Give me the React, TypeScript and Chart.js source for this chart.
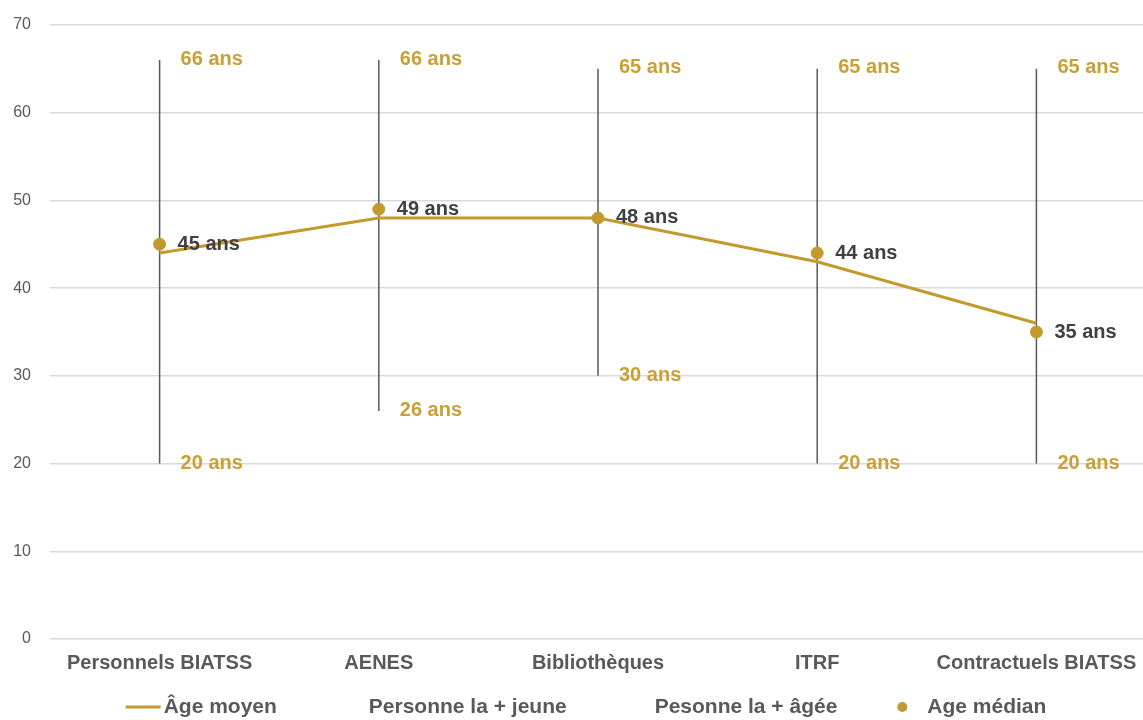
import React, { useEffect, useRef } from 'react';
import { Chart, registerables } from 'chart.js';

Chart.register(...registerables);

const categories = ['Personnels BIATSS', 'AENES', 'Bibliothèques', 'ITRF', 'Contractuels BIATSS'];
const ageMoyen = [44, 48, 48, 43, 36];
const plusJeune = [20, 26, 30, 20, 20];
const plusAgee = [66, 66, 65, 65, 65];
const ageMedian = [45, 49, 48, 44, 35];
const seriesNames = ['Âge moyen', 'Personne la + jeune', 'Pesonne la + âgée', 'Age médian'];
const yMin = 0;
const yMax = 70;
const yStep = 10;

const GOLD = '#C39A2E';
const GOLD_TEXT = '#C9A035';
const DARK = '#404040';
const GREY = '#595959';
const FONT = '"Liberation Sans", Arial, sans-serif';
const CANVAS_W = 1153;

const rangePlugin = {
  id: 'rangeLines',
  beforeDatasetsDraw(chart: any) {
    const { ctx } = chart;
    const xs = chart.scales.x;
    const ys = chart.scales.y;
    ctx.save();
    ctx.strokeStyle = '#595959';
    ctx.lineWidth = 1.5;
    for (let i = 0; i < categories.length; i++) {
      const x = xs.getPixelForValue(i);
      ctx.beginPath();
      ctx.moveTo(x, ys.getPixelForValue(plusJeune[i]));
      ctx.lineTo(x, ys.getPixelForValue(plusAgee[i]));
      ctx.stroke();
    }
    ctx.restore();
  },
};

const labelPlugin = {
  id: 'valueLabels',
  afterDatasetsDraw(chart: any) {
    const { ctx } = chart;
    const xs = chart.scales.x;
    const ys = chart.scales.y;
    ctx.save();
    ctx.font = `bold 20px ${FONT}`;
    ctx.textAlign = 'left';
    ctx.textBaseline = 'middle';
    for (let i = 0; i < categories.length; i++) {
      const x = xs.getPixelForValue(i);
      ctx.fillStyle = GOLD_TEXT;
      ctx.fillText(`${plusAgee[i]} ans`, x + 21, ys.getPixelForValue(plusAgee[i]) - 1);
      ctx.fillText(`${plusJeune[i]} ans`, x + 21, ys.getPixelForValue(plusJeune[i]));
      ctx.fillStyle = DARK;
      ctx.fillText(`${ageMedian[i]} ans`, x + 18, ys.getPixelForValue(ageMedian[i]));
    }
    ctx.restore();
  },
};

const legendPlugin = {
  id: 'customLegend',
  afterDraw(chart: any) {
    const { ctx } = chart;
    ctx.save();
    ctx.font = `bold 21px ${FONT}`;
    ctx.textBaseline = 'middle';
    ctx.textAlign = 'left';
    const kinds = ['line', 'none', 'none', 'dot'];
    const gaps = [92, 88, 60];
    const markerW = (k: string) => (k === 'line' ? 38 : k === 'dot' ? 30 : 0);
    let total = 0;
    seriesNames.forEach((t, i) => {
      total += markerW(kinds[i]) + ctx.measureText(t).width;
      if (i < gaps.length) total += gaps[i];
    });
    let x = 586 - total / 2;
    const y = 707;
    seriesNames.forEach((t, i) => {
      const k = kinds[i];
      if (k === 'line') {
        ctx.strokeStyle = GOLD;
        ctx.lineWidth = 3;
        ctx.beginPath();
        ctx.moveTo(x, y);
        ctx.lineTo(x + 35, y);
        ctx.stroke();
      } else if (k === 'dot') {
        ctx.fillStyle = GOLD;
        ctx.beginPath();
        ctx.arc(x + 5, y, 5, 0, Math.PI * 2);
        ctx.fill();
      }
      x += markerW(k);
      ctx.fillStyle = GREY;
      ctx.fillText(t, x, y);
      x += ctx.measureText(t).width + (i < gaps.length ? gaps[i] : 0);
    });
    ctx.restore();
  },
};

export default function App() {
  const ref = useRef<HTMLCanvasElement | null>(null);
  useEffect(() => {
    if (!ref.current) return;
    const chart = new Chart(ref.current, {
      type: 'line',
      data: {
        labels: categories,
        datasets: [
          {
            label: seriesNames[0],
            data: ageMoyen,
            borderColor: GOLD,
            backgroundColor: GOLD,
            borderWidth: 3,
            pointRadius: 0,
            tension: 0,
            order: 1,
          },
          {
            label: seriesNames[1],
            data: plusJeune,
            showLine: false,
            pointRadius: 0,
            borderColor: 'transparent',
            order: 2,
          },
          {
            label: seriesNames[2],
            data: plusAgee,
            showLine: false,
            pointRadius: 0,
            borderColor: 'transparent',
            order: 2,
          },
          {
            label: seriesNames[3],
            data: ageMedian,
            showLine: false,
            pointRadius: 6,
            pointBackgroundColor: GOLD,
            pointBorderColor: GOLD,
            borderColor: GOLD,
            backgroundColor: GOLD,
            order: 0,
          },
        ],
      },
      options: {
        animation: false,
        responsive: false,
        maintainAspectRatio: false,
        layout: { padding: { top: 20, bottom: 44, left: 0, right: 0 } },
        plugins: {
          legend: { display: false },
          tooltip: { enabled: false },
        },
        scales: {
          x: {
            offset: true,
            grid: { display: false, drawTicks: false },
            border: { display: false },
            ticks: {
              color: GREY,
              padding: 12,
              maxRotation: 0,
              autoSkip: false,
              font: { family: FONT, size: 20, weight: 'bold' },
            },
            afterFit(scale: any) {
              scale.height = 37;
            },
          },
          y: {
            min: yMin,
            max: yMax,
            grid: { color: '#D9D9D9', lineWidth: 1.5, drawTicks: false },
            border: { display: false },
            ticks: {
              stepSize: yStep,
              color: GREY,
              padding: 19,
              font: { family: FONT, size: 16, lineHeight: 0.75 },
            },
            afterFit(scale: any) {
              scale.width = 50;
            },
          },
        },
      },
      plugins: [rangePlugin, labelPlugin, legendPlugin],
    });
    return () => chart.destroy();
  }, []);
  return (
    <div style={{ position: 'absolute', left: 0, top: 0, width: 1143, height: 720, overflow: 'hidden', background: '#fff' }}>
      <canvas ref={ref} width={CANVAS_W} height={720} style={{ width: CANVAS_W, height: 720, display: 'block' }} />
    </div>
  );
}
